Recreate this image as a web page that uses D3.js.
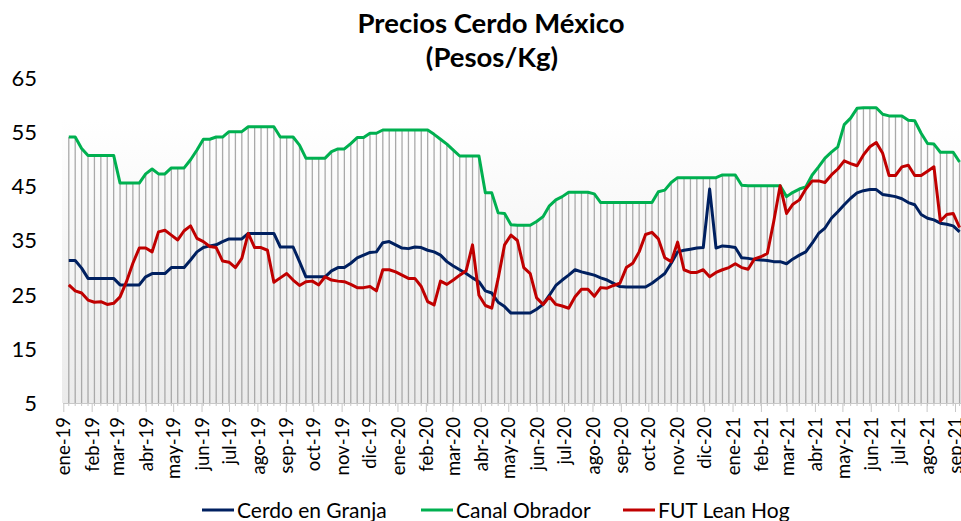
<!DOCTYPE html>
<html>
<head>
<meta charset="utf-8">
<script src="https://cdn.jsdelivr.net/npm/d3@7"></script>
<style>
  body { margin: 0; background: #fff; }
  svg { display: block; }
  text { font-family: Lato, "Open Sans", sans-serif; fill: #000; }
</style>
</head>
<body>
<div id="chart"></div>
<script>
// weekly observations, first one on this date
const firstWeek = "2019-01-07";

const monthLabels = ["ene-19", "feb-19", "mar-19", "abr-19", "may-19", "jun-19", "jul-19", "ago-19", "sep-19",
    "oct-19", "nov-19", "dic-19", "ene-20", "feb-20", "mar-20", "abr-20", "may-20", "jun-20", "jul-20",
    "ago-20", "sep-20", "oct-20", "nov-20", "dic-20", "ene-21", "feb-21", "mar-21", "abr-21", "may-21",
    "jun-21", "jul-21", "ago-21", "sep-21"];

const yTicks = [5, 15, 25, 35, 45, 55, 65];

const cerdoGranja = [31.3, 31.3, 29.9, 28.0, 28.0, 28.0, 28.0, 28.0, 26.8, 26.8,
    26.8, 26.8, 28.3, 28.9, 28.9, 28.9, 30.0, 30.0, 30.0, 31.4,
    32.9, 33.7, 34.0, 34.2, 34.8, 35.3, 35.3, 35.3, 36.3, 36.3,
    36.3, 36.3, 36.3, 33.8, 33.8, 33.8, 31.1, 28.3, 28.3, 28.3,
    28.3, 29.4, 30.0, 30.0, 30.8, 31.8, 32.3, 32.8, 32.9, 34.6,
    34.8, 34.2, 33.6, 33.5, 33.8, 33.7, 33.2, 32.9, 32.3, 31.1,
    30.3, 29.6, 28.9, 28.1, 27.4, 25.7, 25.3, 23.6, 22.8, 21.6,
    21.6, 21.6, 21.6, 22.3, 23.2, 24.9, 26.7, 27.7, 28.6, 29.6,
    29.2, 28.9, 28.6, 28.1, 27.7, 27.1, 26.5, 26.4, 26.4, 26.4,
    26.4, 27.1, 28.0, 28.9, 30.8, 32.9, 33.2, 33.4, 33.6, 33.7,
    44.5, 33.6, 34.0, 33.9, 33.7, 31.8, 31.7, 31.5, 31.4, 31.3,
    31.1, 31.1, 30.7, 31.6, 32.3, 32.9, 34.5, 36.3, 37.3, 39.1,
    40.3, 41.6, 42.8, 43.8, 44.2, 44.4, 44.4, 43.5, 43.3, 43.1,
    42.7, 42.0, 41.6, 39.8, 39.1, 38.8, 38.2, 38.0, 37.7, 36.6];

const canalObrador = [54.1, 54.1, 52.0, 50.7, 50.7, 50.7, 50.7, 50.7, 45.6, 45.6,
    45.6, 45.6, 47.3, 48.2, 47.3, 47.3, 48.4, 48.4, 48.4, 49.9,
    51.7, 53.7, 53.7, 54.1, 54.1, 55.1, 55.1, 55.1, 56.0, 56.0,
    56.0, 56.0, 56.0, 54.1, 54.1, 54.1, 52.6, 50.2, 50.2, 50.2,
    50.2, 51.4, 51.9, 51.9, 52.9, 54.0, 54.0, 54.8, 54.8, 55.4,
    55.4, 55.4, 55.4, 55.4, 55.4, 55.4, 55.4, 54.6, 53.7, 52.8,
    51.7, 50.6, 50.6, 50.6, 50.6, 43.8, 43.8, 40.1, 40.0, 37.9,
    37.8, 37.8, 37.8, 38.5, 39.4, 41.4, 42.5, 43.1, 43.9, 43.9,
    43.9, 43.9, 43.6, 42.0, 42.0, 42.0, 42.0, 42.0, 42.0, 42.0,
    42.0, 42.0, 44.0, 44.3, 45.7, 46.6, 46.6, 46.6, 46.6, 46.6,
    46.6, 46.6, 47.1, 47.1, 47.1, 45.2, 45.1, 45.1, 45.1, 45.1,
    45.1, 45.1, 43.1, 43.9, 44.5, 44.9, 47.1, 48.6, 50.2, 51.3,
    52.3, 56.4, 57.6, 59.4, 59.5, 59.5, 59.5, 58.3, 58.0, 58.0,
    58.0, 57.2, 57.1, 54.8, 52.9, 52.8, 51.3, 51.3, 51.3, 49.5];

const futLeanHog = [26.8, 25.7, 25.3, 24.0, 23.6, 23.7, 23.2, 23.4, 24.6, 27.4,
    30.8, 33.6, 33.6, 32.9, 36.6, 36.9, 36.0, 35.1, 36.8, 37.7,
    35.4, 34.8, 33.9, 33.7, 31.2, 31.0, 30.0, 31.7, 36.3, 33.7,
    33.7, 33.2, 27.3, 28.1, 28.9, 27.7, 26.7, 27.4, 27.5, 26.8,
    28.3, 27.7, 27.5, 27.4, 26.9, 26.3, 26.3, 26.5, 25.7, 29.6,
    29.6, 29.2, 28.6, 28.0, 28.0, 26.5, 23.7, 23.1, 27.5, 26.9,
    27.7, 28.6, 29.4, 34.2, 24.9, 23.0, 22.5, 28.0, 34.2, 36.0,
    35.0, 30.0, 28.9, 24.4, 23.2, 24.6, 23.2, 22.9, 22.5, 24.6,
    26.0, 26.0, 24.7, 26.3, 26.2, 26.7, 27.1, 30.0, 30.8, 32.9,
    36.1, 36.5, 35.3, 31.8, 31.1, 34.7, 29.6, 29.1, 29.1, 29.6,
    28.3, 29.1, 29.6, 30.0, 30.7, 30.0, 29.7, 31.6, 32.0, 32.6,
    38.5, 45.1, 40.0, 41.7, 42.5, 44.5, 46.0, 46.0, 45.7, 47.1,
    48.2, 49.7, 49.2, 48.8, 50.8, 52.3, 53.1, 51.1, 47.0, 47.0,
    48.6, 48.9, 47.0, 47.0, 47.8, 48.6, 38.6, 39.8, 40.0, 37.4];

const seriesNames = ["Cerdo en Granja", "Canal Obrador", "FUT Lean Hog"];
const seriesColors = ["#002060", "#00b050", "#c00000"];

function drawChart() {
    let width = 961, height = 521;
    let plot = {"left": 63, "right": 961, "top": 78, "bottom": 403};

    let start = d3.utcParse("%Y-%m-%d")(firstWeek);
    let weeks = canalObrador.map((d, i) => d3.utcWeek.offset(start, i));
    let monthTicks = monthLabels.map((d, i) => d3.utcMonth.offset(new Date(Date.UTC(2019, 0, 1)), i));

    let x = d3.scaleUtc()
        .domain([monthTicks[0], monthTicks[monthTicks.length - 1]])
        .range([63.3, 955]);
    let y = d3.scaleLinear().domain([5, 65]).range([plot.bottom, plot.top]);

    let svg = d3.select("#chart").append("svg")
        .attr("width", width)
        .attr("height", height);

    // plot area fill
    let grad = svg.append("defs").append("linearGradient")
        .attr("id", "plotFill").attr("x1", 0).attr("y1", 0).attr("x2", 0).attr("y2", 1);
    grad.append("stop").attr("offset", "0%").attr("stop-color", "#ffffff");
    grad.append("stop").attr("offset", "100%").attr("stop-color", "#ebebeb");

    svg.append("rect")
        .attr("x", plot.left - 1).attr("y", 120)
        .attr("width", plot.right - plot.left + 1).attr("height", plot.bottom - 120)
        .attr("fill", "url(#plotFill)");

    // title
    let title = svg.append("text")
        .attr("text-anchor", "middle")
        .style("font-weight", "bold")
        .style("font-size", "27.5px");
    title.append("tspan").attr("x", 491).attr("y", 33).text("Precios Cerdo México");
    title.append("tspan").attr("x", 492).attr("y", 67).text("(Pesos/Kg)");

    // y labels
    svg.append("g").selectAll("text")
        .data(yTicks)
        .enter().append("text")
        .attr("x", 37)
        .attr("y", d => y(d))
        .attr("dy", "0.36em")
        .attr("text-anchor", "end")
        .style("font-size", "22px")
        .text(d => d);

    // drop lines from Canal Obrador
    svg.append("g").selectAll("line")
        .data(canalObrador)
        .enter().append("line")
        .attr("x1", (d, i) => x(weeks[i]))
        .attr("x2", (d, i) => x(weeks[i]))
        .attr("y1", d => y(d))
        .attr("y2", y(5))
        .attr("stroke", "#a9a9a9")
        .attr("stroke-width", 1.3);

    // x axis: minor ticks per week, major per month
    svg.append("g")
        .attr("transform", "translate(0," + plot.bottom + ")")
        .selectAll("line")
        .data(weeks)
        .enter().append("line")
        .attr("x1", d => x(d)).attr("x2", d => x(d))
        .attr("y1", 0).attr("y2", 3)
        .attr("stroke", "#c8c8c8");

    let xAxis = d3.axisBottom(x)
        .tickValues(monthTicks)
        .tickFormat((d, i) => monthLabels[i])
        .tickSize(9)
        .tickSizeOuter(0);

    let axisG = svg.append("g")
        .attr("transform", "translate(0," + plot.bottom + ")")
        .call(xAxis);
    axisG.select(".domain").attr("stroke", "#c8c8c8").attr("d", "M" + plot.left + ",0.5H" + plot.right);
    axisG.selectAll(".tick line").attr("stroke", "#c8c8c8");
    axisG.selectAll(".tick text")
        .attr("transform", "rotate(-90)")
        .attr("x", -14)
        .attr("y", 0)
        .attr("dy", "0.36em")
        .attr("text-anchor", "end")
        .style("font-family", "Lato, sans-serif")
        .style("font-size", "18.5px")
        .attr("fill", "#000");

    // series lines
    let line = d3.line()
        .x((d, i) => x(weeks[i]))
        .y(d => y(d));

    [cerdoGranja, canalObrador, futLeanHog].forEach((s, k) => {
        svg.append("path")
            .datum(s)
            .attr("d", line)
            .attr("fill", "none")
            .attr("stroke", seriesColors[k])
            .attr("stroke-width", 3)
            .attr("stroke-linejoin", "round");
    });

    // legend
    let legendX = [202, 421, 623];
    let legend = svg.selectAll(".legend")
        .data(seriesNames)
        .enter().append("g")
        .attr("class", "legend")
        .attr("transform", (d, i) => "translate(" + legendX[i] + ",510)");

    legend.append("line")
        .attr("x1", 0).attr("x2", 32)
        .attr("stroke", (d, i) => seriesColors[i])
        .attr("stroke-width", 3);

    legend.append("text")
        .attr("x", 35)
        .attr("dy", "0.36em")
        .style("font-size", "21px")
        .text(d => d);
}

drawChart();
</script>
</body>
</html>
